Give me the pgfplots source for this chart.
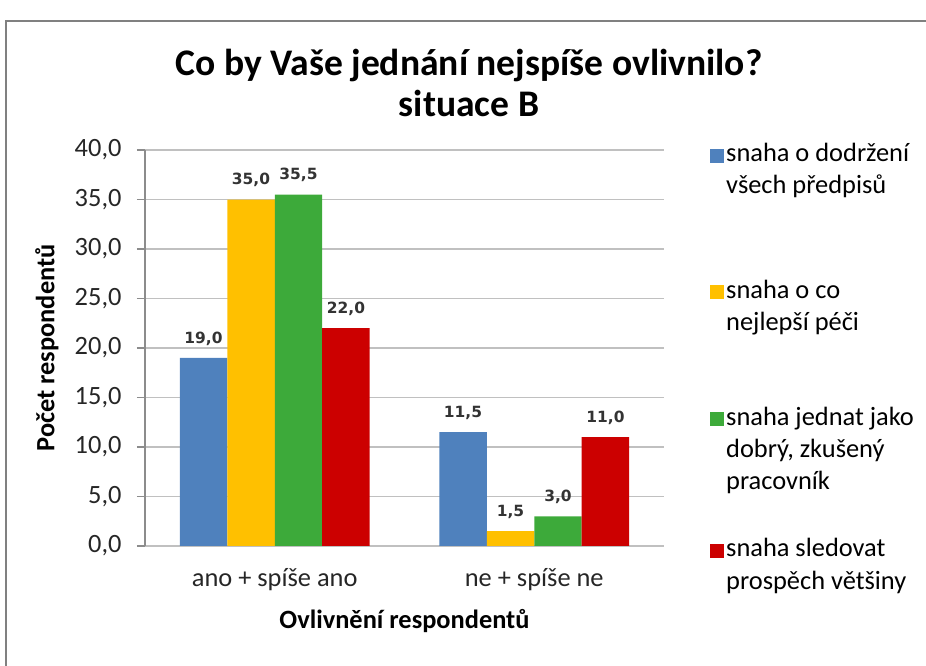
\documentclass[border=0pt]{standalone}
\usepackage{fontspec}
\setmainfont{Carlito}
\newfontfamily\labfont{DejaVu Sans}
\usepackage{pgfplots}
\pgfplotsset{compat=1.18}
\definecolor{cblue}{RGB}{79,129,189}
\definecolor{cyellow}{RGB}{255,192,0}
\definecolor{cgreen}{RGB}{61,170,58}
\definecolor{cred}{RGB}{204,0,0}
\definecolor{gridc}{RGB}{192,192,192}
\definecolor{axc}{RGB}{140,140,140}
\definecolor{framec}{RGB}{128,128,128}
\newcommand{\lsize}{\fontsize{26.5}{32.3}\selectfont}
\newcommand{\hstrut}[1]{\rule{0pt}{#1}}
\begin{document}
\begin{tikzpicture}
\path[use as bounding box] (0bp,0bp) rectangle (926bp,666bp);
\draw[framec, line width=2.5bp] (6bp,0bp) -- (6bp,645bp) -- (926bp,645bp);
\node[font=\fontsize{37.7}{42}\selectfont\bfseries, align=center] at (469bp,583bp) {Co by Vaše jednání nejspíše ovlivnilo?\\situace B};
\begin{axis}[
  at={(145bp,120bp)}, anchor=south west, scale only axis,
  width=519bp, height=396bp,
  ybar=0pt, bar width=0.183,
  xmin=-0.5, xmax=1.5, ymin=0, ymax=40,
  xtick={0,1}, xticklabels={ano + spíše ano, ne + spíše ne},
  ytick={0,5,...,40},
  axis x line*=bottom, axis y line*=left,
  axis line style={axc, line width=1.2bp, -},
  x axis line style={gridc},
  tick align=outside, major tick length=8bp,
  ytick style={axc, line width=1.2bp},
  xtick style={draw=none},
  ymajorgrids, grid style={gridc, line width=1.3bp},
  tick label style={font=\lsize, text=black!85},
  /pgf/number format/.cd, fixed, fixed zerofill, precision=1, use comma, assume math mode=true,
  /pgfplots/.cd,
  xticklabel style={yshift=-11bp},
  yticklabel style={xshift=-12bp},
  xlabel={\bfseries Ovlivnění respondentů},
  ylabel={\bfseries Počet respondentů},
  label style={font=\lsize},
  xlabel style={at={(rel axis cs:0.5,-0.19)}, anchor=center},
  ylabel style={at={(rel axis cs:-0.189,0.5)}, anchor=center},
  nodes near coords,
  nodes near coords style={font=\labfont\bfseries\fontsize{15.5}{18}\selectfont, text=black!80, anchor=south, yshift=9bp},
  legend style={draw=none, fill=none, at={(1,1)}, anchor=north west, xshift=43bp, yshift=11bp,
    font=\lsize, row sep=0pt, cells={anchor=base west}},
  legend image code/.code={\fill[#1] (0bp,-1bp) rectangle (14bp,13bp);},
]
\addplot[draw=none, fill=cblue] coordinates {(0,19.0) (1,11.5)};
\addplot[draw=none, fill=cyellow] coordinates {(0,35.0) (1,1.5)};
\addplot[draw=none, fill=cgreen] coordinates {(0,35.5) (1,3.0)};
\addplot[draw=none, fill=cred] coordinates {(0,22.0) (1,11.0)};
\legend{\parbox[t]{210bp}{snaha o dodržení\\všech předpisů},
        \parbox[t]{210bp}{\hstrut{131bp}snaha o co\\nejlepší péči},
        {\parbox[t]{210bp}{\hstrut{122bp}snaha jednat jako\\dobrý, zkušený\\pracovník}},
        \parbox[t]{210bp}{\hstrut{126bp}snaha sledovat\\prospěch většiny}}
\end{axis}
\end{tikzpicture}
\end{document}
